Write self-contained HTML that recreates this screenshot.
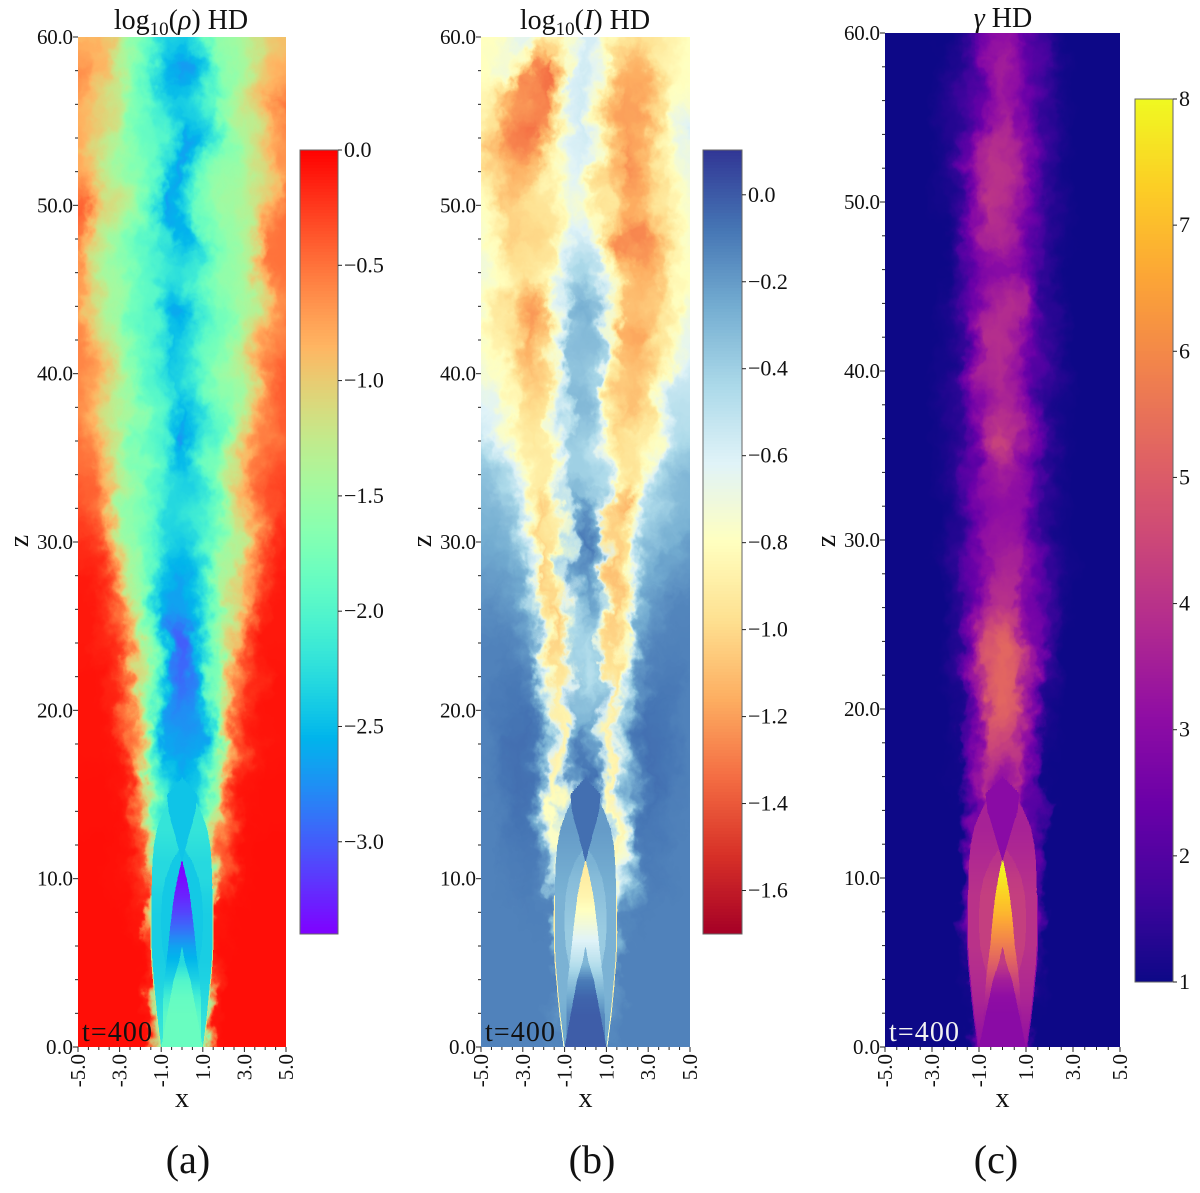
<!DOCTYPE html>
<html lang="en">
<head>
<meta charset="utf-8">
<title>Jet simulation maps at t=400</title>
<style>
html,body{margin:0;padding:0;background:#fff}
svg{display:block}
text{font-family:"Liberation Serif",serif;fill:#111}
</style>
</head>
<body>
<svg id="figure" xmlns="http://www.w3.org/2000/svg" width="1200" height="1193" viewBox="0 0 1200 1193">
  <defs>
    <filter id="turb-a" filterUnits="userSpaceOnUse" x="20" y="-30" width="330" height="1140" color-interpolation-filters="sRGB">
      <feGaussianBlur in="SourceGraphic" stdDeviation="1.8" result="b"/>
      <feTurbulence type="fractalNoise" baseFrequency="0.022 0.018" numOctaves="3" seed="4" result="n1"/>
      <feDisplacementMap in="b" in2="n1" scale="36" xChannelSelector="R" yChannelSelector="G" result="d1"/>
      <feTurbulence type="fractalNoise" baseFrequency="0.09 0.07" numOctaves="3" seed="21" result="n2"/>
      <feDisplacementMap in="d1" in2="n2" scale="16" xChannelSelector="R" yChannelSelector="G"/>
    </filter>
    <filter id="turb-b" filterUnits="userSpaceOnUse" x="420" y="-30" width="330" height="1140" color-interpolation-filters="sRGB">
      <feGaussianBlur in="SourceGraphic" stdDeviation="1.8" result="b"/>
      <feTurbulence type="fractalNoise" baseFrequency="0.03 0.024" numOctaves="3" seed="9" result="n1"/>
      <feDisplacementMap in="b" in2="n1" scale="34" xChannelSelector="R" yChannelSelector="G" result="d1"/>
      <feTurbulence type="fractalNoise" baseFrequency="0.1 0.08" numOctaves="3" seed="27" result="n2"/>
      <feDisplacementMap in="d1" in2="n2" scale="16" xChannelSelector="R" yChannelSelector="G"/>
    </filter>
    <filter id="turb-c" filterUnits="userSpaceOnUse" x="825" y="-30" width="355" height="1140" color-interpolation-filters="sRGB">
      <feGaussianBlur in="SourceGraphic" stdDeviation="1.6" result="b"/>
      <feTurbulence type="fractalNoise" baseFrequency="0.028 0.022" numOctaves="3" seed="15" result="n1"/>
      <feDisplacementMap in="b" in2="n1" scale="28" xChannelSelector="R" yChannelSelector="G" result="d1"/>
      <feTurbulence type="fractalNoise" baseFrequency="0.09 0.07" numOctaves="3" seed="52" result="n2"/>
      <feDisplacementMap in="d1" in2="n2" scale="14" xChannelSelector="R" yChannelSelector="G"/>
    </filter>
    <clipPath id="clip-a"><rect x="78" y="37" width="208" height="1010"/></clipPath>
    <clipPath id="clip-b"><rect x="481" y="37" width="209" height="1010"/></clipPath>
    <clipPath id="clip-c"><rect x="885" y="33" width="235" height="1014"/></clipPath>
  </defs>

  <text x="181" y="29" font-size="28" text-anchor="middle">log<tspan dy="6" font-size="19">10</tspan><tspan dy="-6">(</tspan><tspan font-style="italic">ρ</tspan>) HD</text>
  <text x="585" y="29" font-size="28" text-anchor="middle">log<tspan dy="6" font-size="19">10</tspan><tspan dy="-6">(</tspan><tspan font-style="italic">I</tspan>) HD</text>
  <text x="1003" y="27" font-size="28" text-anchor="middle"><tspan font-style="italic">γ</tspan> HD</text>

  <g id="panel-a"></g>
  <g id="panel-b"></g>
  <g id="panel-c"></g>

  <text x="188" y="1173" font-size="40" text-anchor="middle">(a)</text>
  <text x="592" y="1173" font-size="40" text-anchor="middle">(b)</text>
  <text x="996" y="1173" font-size="40" text-anchor="middle">(c)</text>
</svg>

<script>
const xNodes = [-5,-4.375,-3.75,-3.125,-2.5,-1.875,-1.25,-0.625,0,0.625,1.25,1.875,2.5,3.125,3.75,4.375,5];
const zNodes = [60,58,56,54,52,50,48,46,44,42,40,38,36,34,32,30,28,26,24,22,20,18,16,14,12,10,8,6,4,2,0];
const xTicks = [-5,-3,-1,1,3,5];
const zTicks = [0,10,20,30,40,50,60];
const densityTicks = [0,-0.5,-1,-1.5,-2,-2.5,-3];
const intensityTicks = [0,-0.2,-0.4,-0.6,-0.8,-1,-1.2,-1.4,-1.6];
const lorentzTicks = [1,2,3,4,5,6,7,8];

const densityGrid = [
[-.9,-.9,-1,-1.3,-1.5,-1.7,-1.9,-2.3,-2.4,-2.2,-1.8,-1.6,-1.5,-1.3,-1.1,-1,-.9],
[-.6,-.7,-.9,-1.3,-1.6,-1.8,-2,-2.5,-2.8,-2.4,-2.1,-1.7,-1.5,-1.3,-1.1,-.9,-.8],
[-.8,-.9,-1.1,-1.4,-1.7,-1.8,-1.9,-2.2,-2.4,-2.2,-1.8,-1.6,-1.5,-1.3,-1,-.7,-.5],
[-.8,-1,-1.2,-1.4,-1.6,-1.8,-1.9,-2.3,-2.7,-2.6,-2.2,-1.8,-1.5,-1.3,-1.1,-.8,-.6],
[-.8,-.9,-1.1,-1.4,-1.6,-1.8,-2,-2.5,-2.7,-2.3,-1.9,-1.6,-1.5,-1.3,-1.1,-.9,-.7],
[-.4,-.7,-1.1,-1.3,-1.5,-1.8,-2.3,-2.7,-2.5,-2.2,-1.8,-1.6,-1.4,-1.3,-1,-.7,-.5],
[-.6,-.9,-1.2,-1.4,-1.6,-1.8,-2.1,-2.5,-2.6,-2.4,-1.8,-1.6,-1.5,-1.3,-.9,-.5,-.5],
[-.7,-1,-1.3,-1.5,-1.7,-1.9,-2,-2.2,-2.2,-2,-1.8,-1.6,-1.5,-1.3,-.9,-.6,-.5],
[-.7,-1,-1.3,-1.5,-1.8,-1.9,-2,-2.4,-2.7,-2.5,-2.1,-1.8,-1.6,-1.4,-1,-.7,-.6],
[-.6,-.9,-1.1,-1.4,-1.7,-1.9,-2.2,-2.5,-2.4,-2.2,-1.9,-1.8,-1.6,-1.3,-.9,-.6,-.5],
[-.6,-.8,-1,-1.3,-1.6,-1.9,-2.1,-2.4,-2.3,-2.1,-1.9,-1.7,-1.5,-1.2,-.8,-.5,-.4],
[-.6,-.7,-.9,-1.2,-1.5,-1.9,-2,-2.3,-2.5,-2.3,-1.9,-1.7,-1.4,-1.1,-.7,-.5,-.4],
[-.5,-.6,-.8,-1.1,-1.5,-1.9,-2.1,-2.5,-2.8,-2.5,-2.1,-1.8,-1.4,-1,-.7,-.5,-.4],
[-.5,-.5,-.7,-1,-1.5,-1.9,-2,-2.3,-2.4,-2.2,-1.9,-1.7,-1.3,-.9,-.6,-.4,-.3],
[-.3,-.4,-.6,-1,-1.5,-1.8,-2,-2.3,-2.3,-2.2,-2,-1.7,-1.2,-.8,-.5,-.3,-.2],
[-.15,-.2,-.4,-.9,-1.4,-1.8,-2,-2.3,-2.4,-2.3,-2,-1.7,-1.2,-.7,-.4,-.2,-.15],
[-.1,-.15,-.3,-.7,-1.3,-1.7,-2.1,-2.5,-2.7,-2.4,-2.1,-1.6,-1,-.6,-.3,-.15,-.1],
[-.1,-.1,-.2,-.5,-1.1,-1.6,-2.1,-2.5,-2.7,-2.5,-2.1,-1.6,-.9,-.5,-.2,-.1,-.1],
[-.1,-.1,-.15,-.3,-.9,-1.6,-2.1,-2.8,-3.05,-2.8,-2.1,-1.6,-.9,-.4,-.2,-.1,-.1],
[-.08,-.08,-.1,-.2,-.7,-1.5,-2.1,-2.8,-2.95,-2.8,-2.1,-1.4,-.7,-.3,-.15,-.08,-.08],
[-.08,-.08,-.08,-.15,-.5,-1.2,-2.1,-2.7,-2.8,-2.7,-2.1,-1.2,-.5,-.2,-.1,-.08,-.08],
[-.08,-.08,-.08,-.1,-.4,-1,-2,-2.6,-2.7,-2.6,-2,-1,-.4,-.15,-.08,-.08,-.08],
[-.07,-.07,-.07,-.1,-.25,-.8,-1.9,-2.4,-2.6,-2.4,-1.9,-.8,-.25,-.1,-.07,-.07,-.07],
[-.07,-.07,-.07,-.08,-.15,-.6,-1.8,-2.3,-2.5,-2.3,-1.8,-.7,-.2,-.08,-.07,-.07,-.07],
[-.06,-.06,-.06,-.07,-.1,-.4,-1.8,-2.3,-2.4,-2.3,-1.8,-.6,-.2,-.07,-.06,-.06,-.06],
[-.06,-.06,-.06,-.07,-.08,-.25,-2,-2.4,-2.4,-2.4,-2,-.4,-.1,-.07,-.06,-.06,-.06],
[-.06,-.06,-.06,-.06,-.07,-.12,-2,-2.4,-2.4,-2.4,-2,-.12,-.07,-.06,-.06,-.06,-.06],
[-.06,-.06,-.06,-.06,-.06,-.07,-.3,-2.3,-2.4,-2.3,-.3,-.07,-.06,-.06,-.06,-.06,-.06],
[-.06,-.06,-.06,-.06,-.06,-.06,-.2,-2.3,-2.3,-2.3,-.2,-.06,-.06,-.06,-.06,-.06,-.06],
[-.06,-.06,-.06,-.06,-.06,-.06,-.1,-2.2,-2.2,-2.2,-.1,-.06,-.06,-.06,-.06,-.06,-.06],
[-.06,-.06,-.06,-.06,-.06,-.06,-.08,-2.2,-2.2,-2.2,-.08,-.06,-.06,-.06,-.06,-.06,-.06]
];

const intensityGrid = [
[-.8,-.8,-.75,-.65,-.62,-.85,-.9,-.7,-.55,-.7,-.85,-.95,-1,-.95,-.9,-.85,-.8],
[-.8,-.75,-.7,-.95,-1.3,-1.35,-1,-.6,-.55,-.7,-1,-1.15,-1.15,-1.05,-.9,-.85,-.8],
[-.85,-.95,-1.1,-1.2,-1.25,-1.3,-1,-.6,-.55,-.75,-1.05,-1.2,-1.2,-1.05,-.95,-.8,-.75],
[-.85,-1.05,-1.2,-1.3,-1.35,-1.2,-.85,-.6,-.55,-.85,-1.15,-1.2,-1.15,-1,-.85,-.7,-.55],
[-.85,-.95,-1.15,-1.15,-1.1,-.9,-.8,-.65,-.6,-.9,-1.1,-1.25,-1.2,-1.05,-.9,-.75,-.7],
[-.8,-.95,-1.05,-1,-.95,-.95,-.8,-.7,-.75,-.9,-1.05,-1.15,-1.15,-1.05,-.95,-.8,-.75],
[-.75,-.85,-1,-1.05,-1,-.95,-.75,-.6,-.6,-.7,-1,-1.25,-1.3,-1.2,-1.05,-.9,-.75],
[-.7,-.8,-.9,-.95,-.9,-.8,-.6,-.45,-.4,-.5,-.85,-1.05,-1.15,-1.15,-1.05,-.85,-.8],
[-.7,-.85,-1,-1.15,-1.25,-1.1,-.7,-.3,-.25,-.35,-.8,-1.1,-1.1,-1.05,-.9,-.8,-.7],
[-.75,-.85,-.95,-1.1,-1.2,-1.05,-.7,-.35,-.3,-.4,-.85,-1.15,-1.2,-1.1,-.95,-.75,-.65],
[-.7,-.75,-.85,-1.05,-1.1,-1,-.65,-.35,-.35,-.45,-.9,-1.05,-1.1,-1.05,-.85,-.6,-.55],
[-.6,-.65,-.8,-.95,-1,-.95,-.65,-.3,-.3,-.45,-.9,-1.1,-1.1,-.95,-.7,-.5,-.5],
[-.5,-.55,-.7,-.85,-.95,-.9,-.65,-.4,-.4,-.5,-.85,-1,-.95,-.8,-.55,-.45,-.4],
[-.35,-.4,-.5,-.7,-.9,-.9,-.7,-.4,-.4,-.5,-.85,-.95,-.9,-.65,-.45,-.35,-.3],
[-.3,-.3,-.38,-.55,-.9,-1.05,-.85,-.25,-.15,-.35,-1.05,-1.15,-.85,-.5,-.35,-.3,-.3],
[-.25,-.25,-.3,-.5,-.75,-1,-.95,-.2,-.05,-.25,-1.05,-.95,-.6,-.4,-.3,-.25,-.2],
[-.2,-.2,-.22,-.3,-.6,-1.05,-.95,-.2,-.15,-.3,-1.15,-.95,-.5,-.3,-.2,-.2,-.18],
[-.17,-.15,-.17,-.2,-.3,-.9,-1.1,-.5,-.2,-.6,-1.1,-.85,-.35,-.2,-.15,-.13,-.13],
[-.12,-.12,-.12,-.15,-.2,-.75,-1.1,-.4,-.45,-.4,-1.1,-.8,-.25,-.15,-.12,-.12,-.12],
[-.12,-.12,-.1,-.1,-.15,-.6,-1.05,-.4,-.5,-.4,-1.05,-.6,-.2,-.1,-.1,-.1,-.12],
[-.12,-.1,-.08,-.07,-.1,-.45,-1,-.3,-.35,-.3,-1,-.45,-.12,-.07,-.08,-.1,-.12],
[-.12,-.1,-.07,-.06,-.08,-.4,-1,-.25,-.08,-.25,-1,-.4,-.1,-.06,-.07,-.1,-.12],
[-.12,-.1,-.08,-.06,-.08,-.3,-1,-.2,-.02,-.2,-1,-.4,-.1,-.06,-.08,-.1,-.12],
[-.12,-.11,-.09,-.07,-.08,-.25,-.95,-.2,-.02,-.2,-.95,-.45,-.1,-.07,-.09,-.11,-.12],
[-.12,-.12,-.1,-.09,-.09,-.3,-.9,-.25,-.1,-.25,-.9,-.7,-.12,-.09,-.1,-.12,-.12],
[-.12,-.12,-.11,-.1,-.1,-.15,-.8,-.3,-.3,-.3,-.8,-.5,-.12,-.1,-.11,-.12,-.12],
[-.12,-.12,-.12,-.12,-.11,-.12,-.5,-.35,-.4,-.35,-.5,-.15,-.11,-.12,-.12,-.12,-.12],
[-.12,-.12,-.12,-.12,-.12,-.12,-.3,-.35,-.4,-.35,-.3,-.12,-.12,-.12,-.12,-.12,-.12],
[-.12,-.12,-.12,-.12,-.12,-.12,-.2,-.3,-.3,-.3,-.2,-.12,-.12,-.12,-.12,-.12,-.12],
[-.12,-.12,-.12,-.12,-.12,-.12,-.15,-.2,-.2,-.2,-.15,-.12,-.12,-.12,-.12,-.12,-.12],
[-.12,-.12,-.12,-.12,-.12,-.12,-.13,-.1,-.05,-.1,-.13,-.12,-.12,-.12,-.12,-.12,-.12]
];

const lorentzGrid = [
[1,1,1,1,1,1.2,1.6,2.5,3.2,2.8,1.9,1.3,1,1,1,1,1],
[1,1,1,1,1.1,1.3,1.8,2.9,3.6,3.1,2.1,1.4,1.1,1,1,1,1],
[1,1,1,1,1.1,1.4,2.1,3,3.4,3.1,2.3,1.5,1.1,1,1,1,1],
[1,1,1,1,1.1,1.4,2.2,3.4,3.9,3.5,2.4,1.5,1.1,1,1,1,1],
[1,1,1,1,1.1,1.5,2.6,3.7,4.1,3.5,2.3,1.5,1.1,1,1,1,1],
[1,1,1,1,1.1,1.5,2.8,4.1,3.9,3.2,2.2,1.4,1.1,1,1,1,1],
[1,1,1,1,1,1.5,2.6,3.6,3.8,3.4,2.3,1.5,1.1,1,1,1,1],
[1,1,1,1,1,1.4,2.1,2.8,2.9,2.7,2.1,1.4,1,1,1,1,1],
[1,1,1,1,1.1,1.5,2.3,3.4,3.9,3.7,2.4,1.5,1.1,1,1,1,1],
[1,1,1,1,1.1,1.5,2.6,3.9,3.9,3.3,2.3,1.6,1.2,1,1,1,1],
[1,1,1,1,1.1,1.4,2.5,3.6,3.9,3.2,2.1,1.5,1.1,1,1,1,1],
[1,1,1,1,1.1,1.4,2.3,3.2,3.7,3.2,2.2,1.4,1.1,1,1,1,1],
[1,1,1,1,1.1,1.5,2.7,4.1,4.6,4,2.7,1.5,1.1,1,1,1,1],
[1,1,1,1,1.1,1.4,2.3,3.2,3.6,3.2,2.3,1.4,1.1,1,1,1,1],
[1,1,1,1,1.1,1.4,2.2,2.9,3.1,3,2.3,1.4,1.1,1,1,1,1],
[1,1,1,1,1.1,1.4,2.3,3.2,3.3,3.2,2.4,1.5,1.1,1,1,1,1],
[1,1,1,1,1,1.4,2.6,3.6,3.8,3.7,2.6,1.5,1.1,1,1,1,1],
[1,1,1,1,1,1.4,2.7,3.8,4,3.9,2.8,1.6,1.1,1,1,1,1],
[1,1,1,1,1,1.4,2.8,4.6,5.4,4.7,2.9,1.5,1,1,1,1,1],
[1,1,1,1,1,1.3,2.9,4.8,5.3,4.9,3,1.4,1,1,1,1,1],
[1,1,1,1,1,1.2,3,5,5.3,5,3,1.2,1,1,1,1,1],
[1,1,1,1,1,1.1,2.8,4.4,4.4,4.4,2.8,1.1,1,1,1,1,1],
[1,1,1,1,1,1.05,2.5,3.8,3,3.8,2.5,1.05,1,1,1,1,1],
[1,1,1,1,1,1,2.3,3.9,2.8,3.9,2.3,1,1,1,1,1,1],
[1,1,1,1,1,1,2.4,3.9,3.2,3.9,2.4,1,1,1,1,1,1],
[1,1,1,1,1,1,2.8,4.1,4,4.1,2.8,1,1,1,1,1,1],
[1,1,1,1,1,1,2.8,4.2,4.4,4.2,2.8,1,1,1,1,1,1],
[1,1,1,1,1,1,1.5,4,4,4,1.5,1,1,1,1,1,1],
[1,1,1,1,1,1,1.2,3.9,3.9,3.9,1.2,1,1,1,1,1,1],
[1,1,1,1,1,1,1,3.3,3.2,3.3,1,1,1,1,1,1,1],
[1,1,1,1,1,1,1,3.2,3.1,3.2,1,1,1,1,1,1,1]
];

const jetZ = [0,1,2,3,4,5,6,7,8,9,10,11,12,13,14,15,16];
const sheathHalfWidth = [1,1.1,1.2,1.28,1.35,1.42,1.46,1.47,1.47,1.46,1.45,1.42,1.35,1.2,.9,.5,0];
const edgeHalfWidth = [1.05,1.15,1.25,1.33,1.4,1.47,1.51,1.52,1.52,1.51,0,0,0,0,0,0,0];
const innerHalfWidth = [0,0,0,0,.6,.8,.95,1,1,.95,.8,.5,0,0,0,0,0];
const coreHalfWidth = [.92,.92,.92,.9,.85,.75,.66,.58,.48,.38,.22,.03,0,0,0,0,0];
const gammaCoreHalfWidth = [.8,.8,.8,.75,.7,.62,.52,.46,.39,.3,.18,.03,0,0,0,0,0];
const baseHalfWidth = [1,.85,.7,.55,.4,.15,0,0,0,0,0,0,0,0,0,0,0];
const wedgeHalfWidth = [0,0,0,0,0,0,0,0,0,0,0,0,.2,.42,.64,.72,0];

const densitySheath = [-2.15,-2.2,-2.25,-2.3,-2.35,-2.38,-2.38,-2.38,-2.38,-2.35,-2.3,-2.3,-2.25,-2.2,-2.2,-2.2,-2.2];
const densityEdge = [-1.2,-1.2,-1.2,-1.2,-1.2,-1.2,-1.2,-1.2,-1.2,-1.2,-1.2,-1.2,-1.2,-1.2,-1.2,-1.2,-1.2];
const densityInner = [-2.42,-2.42,-2.42,-2.42,-2.42,-2.42,-2.42,-2.42,-2.42,-2.42,-2.42,-2.42,-2.42,-2.42,-2.42,-2.42,-2.42];
const densityCore = [-1.9,-1.9,-1.95,-2.1,-2.35,-2.5,-2.65,-2.9,-3.1,-3.25,-3.35,-3.4,-3.4,-3.4,-3.4,-3.4,-3.4];
const densityBase = [-1.85,-1.85,-1.85,-1.88,-2,-2.3,-2.3,-2.3,-2.3,-2.3,-2.3,-2.3,-2.3,-2.3,-2.3,-2.3,-2.3];
const densityWedge = [-2.45,-2.45,-2.45,-2.45,-2.45,-2.45,-2.45,-2.45,-2.45,-2.45,-2.45,-2.45,-2.45,-2.45,-2.45,-2.45,-2.45];

const intensitySheath = [-.24,-.24,-.26,-.28,-.28,-.28,-.28,-.28,-.28,-.28,-.26,-.24,-.22,-.2,-.2,-.2,-.2];
const intensityEdge = [-.7,-.8,-.85,-.9,-.9,-.9,-.9,-.9,-.9,-.85,-.8,-.8,-.8,-.8,-.8,-.8,-.8];
const intensityInner = [-.36,-.36,-.36,-.36,-.34,-.36,-.38,-.38,-.36,-.34,-.32,-.28,-.28,-.28,-.28,-.28,-.28];
const intensityCore = [-.1,-.12,-.15,-.25,-.35,-.48,-.58,-.68,-.78,-.86,-.9,-.92,-.92,-.92,-.92,-.92,-.92];
const intensityBase = [-.01,-.01,-.01,-.03,-.1,-.3,-.3,-.3,-.3,-.3,-.3,-.3,-.3,-.3,-.3,-.3,-.3];
const intensityWedge = [-.06,-.06,-.06,-.06,-.06,-.06,-.06,-.06,-.06,-.06,-.06,-.06,-.06,-.06,-.06,-.06,-.06];

const lorentzSheath = [3.2,3.3,3.5,3.7,3.8,3.9,4,4,4,4,3.9,3.8,3.7,3.6,3.6,3.6,3.6];
const lorentzEdge = [3,3,3,3,3,3,3,3,3,3,3,3,3,3,3,3,3];
const lorentzInner = [4.2,4.2,4.2,4.2,4.1,4.2,4.3,4.3,4.3,4.3,4.2,4,4,4,4,4,4];
const lorentzCore = [3.2,3.2,3.4,3.8,4.4,5.1,5.7,6.3,6.9,7.3,7.7,8,8,8,8,8,8];
const lorentzBase = [3,3,3,3.1,3.5,4.2,4.2,4.2,4.2,4.2,4.2,4.2,4.2,4.2,4.2,4.2,4.2];
const lorentzWedge = [3,3,3,3,3,3,3,3,3,3,3,3,3,3,3,3,3];

const RDYLBU = [[165,0,38],[215,48,39],[244,109,67],[253,174,97],[254,224,144],[255,255,191],[224,243,248],[171,217,233],[116,173,209],[69,117,180],[49,54,149]];
const PLASMA = [[13,8,135],[65,4,157],[106,0,168],[143,13,164],[177,42,144],[204,71,120],[225,100,98],[242,132,75],[252,166,54],[252,206,37],[240,249,33]];
const SVGNS = 'http://www.w3.org/2000/svg';

function clamp01(t){return Math.max(0,Math.min(1,t));}
function rgb(r,g,b){return 'rgb('+Math.round(r)+','+Math.round(g)+','+Math.round(b)+')';}
function rainbow(t){
  t=clamp01(t);
  const r=Math.min(1,Math.abs(2*t-0.5)),g=Math.sin(Math.PI*t),b=Math.cos(Math.PI*t/2);
  return rgb(r*255,g*255,Math.max(0,b)*255);
}
function stops(list){
  return function(t){
    t=clamp01(t)*(list.length-1);
    const i=Math.min(list.length-2,Math.floor(t)),f=t-i;
    const a=list[i],b=list[i+1];
    return rgb(a[0]+(b[0]-a[0])*f,a[1]+(b[1]-a[1])*f,a[2]+(b[2]-a[2])*f);
  };
}
function make(tag,attrs,parent){
  const el=document.createElementNS(SVGNS,tag);
  for(const k in attrs){el.setAttribute(k,attrs[k]);}
  parent.appendChild(el);
  return el;
}
function interp1(xs,ys,x){
  if(x<=xs[0])return ys[0];
  for(let i=1;i<xs.length;i++){
    if(x<=xs[i]){const f=(x-xs[i-1])/(xs[i]-xs[i-1]);return ys[i-1]+(ys[i]-ys[i-1])*f;}
  }
  return ys[ys.length-1];
}
function sampleGrid(grid,x,z){
  const dx=xNodes[1]-xNodes[0];
  const fx=Math.max(0,Math.min(xNodes.length-1.0001,(x-xNodes[0])/dx));
  const fz=Math.max(0,Math.min(zNodes.length-1.0001,(zNodes[0]-z)/2));
  const i=Math.floor(fx),j=Math.floor(fz),u=fx-i,v=fz-j;
  const top=grid[j][i]*(1-u)+grid[j][i+1]*u;
  const bot=grid[j+1][i]*(1-u)+grid[j+1][i+1]*u;
  return top*(1-v)+bot*v;
}
function fmt(v,decimals){
  const s=Math.abs(v).toFixed(decimals);
  return (v<0?'\u2212':'')+s;
}

function drawPanel(p){
  const root=document.getElementById(p.id);
  const xScale=function(x){return p.left+(x+5)/10*(p.right-p.left);};
  const zScale=function(z){return p.bottom-z/60*(p.bottom-p.top);};
  const cNorm=function(v){return (v-p.vmin)/(p.vmax-p.vmin);};
  const barY=function(v){return p.barBottom-(v-p.vmin)/(p.vmax-p.vmin)*(p.barBottom-p.barTop);};

  const clip=make('g',{'clip-path':'url(#'+p.clip+')'},root);
  
  
  const field=make('g',{filter:'url(#'+p.filter+')','shape-rendering':'crispEdges'},clip);
  
  

  const stepX=0.25,stepZ=0.5;
  for(let z=63;z>-3;z-=stepZ){
    for(let x=-7;x<7;x+=stepX){
      const v=sampleGrid(p.grid,x+stepX/2,z-stepZ/2);
      const x0=xScale(x),y0=zScale(z);
      const cell=make('rect',{x:x0.toFixed(1),y:y0.toFixed(1),width:(xScale(x+stepX)-x0+1).toFixed(1),height:(zScale(z-stepZ)-y0+1).toFixed(1),fill:p.cmap(cNorm(v))},field);
      
      
    }
  }

  const jet=make('g',{'shape-rendering':'crispEdges'},clip);
  
  
  p.layers.forEach(function(layer){
    const dz=0.1;
    for(let z=0;z<16;z+=dz){
      const zMid=z+dz/2;
      const hw=interp1(jetZ,layer.width,zMid);
      if(hw<=0.005)continue;
      const v=interp1(jetZ,layer.values,zMid);
      const x0=xScale(-hw),y0=zScale(z+dz);
      const band=make('rect',{x:x0.toFixed(1),y:y0.toFixed(1),width:(xScale(hw)-x0).toFixed(1),height:(zScale(z)-y0+0.8).toFixed(1),fill:p.cmap(cNorm(v))},jet);
      
      
    }
  });

  const axes=make('g',{stroke:'#222','stroke-width':1,fill:'none'},root);
  
  
  for(let x=-5;x<=5.001;x+=0.5){
    const major=xTicks.indexOf(Math.round(x*10)/10)>=0;
    const tx=make('line',{x1:xScale(x),x2:xScale(x),y1:p.bottom,y2:p.bottom+(major?5:3)},axes);
    
    
  }
  for(let z=0;z<=60;z+=2){
    const major=zTicks.indexOf(z)>=0;
    const tz=make('line',{x1:p.left-(major?5:3),x2:p.left,y1:zScale(z),y2:zScale(z)},axes);
    
    
  }
  xTicks.forEach(function(x){
    const X=xScale(x)+7,Y=p.bottom+7;
    const t=make('text',{x:X,y:Y,'font-size':21,'text-anchor':'end',transform:'rotate(-90 '+X+' '+Y+')'},root);
    t.textContent=x.toFixed(1);
    
    
  });
  zTicks.forEach(function(z){
    const t=make('text',{x:p.left-5,y:zScale(z)+7,'font-size':21,'text-anchor':'end',textLength:z===0?27:36,lengthAdjust:'spacing'},root);
    t.textContent=z.toFixed(1);
    
    
  });
  const xl=make('text',{x:(p.left+p.right)/2,y:1107,'font-size':28,'text-anchor':'middle'},root);
  xl.textContent='x';
  
  
  const zlX=p.left-50,zlY=541;
  const zl=make('text',{x:zlX,y:zlY,'font-size':28,'text-anchor':'middle',transform:'rotate(-90 '+zlX+' '+zlY+')'},root);
  zl.textContent='z';
  
  
  const stamp=make('text',{x:p.left+4,y:1041,'font-size':28,textLength:70,lengthAdjust:'spacing',style:'fill:'+p.stampColor},root);
  stamp.textContent='t=400';
  
  

  const bar=make('g',{'shape-rendering':'crispEdges'},root);
  
  
  const barStep=3;
  for(let y=p.barTop;y<p.barBottom;y+=barStep){
    const v=p.vmax-(y+barStep/2-p.barTop)/(p.barBottom-p.barTop)*(p.vmax-p.vmin);
    const strip=make('rect',{x:p.barLeft,y:y,width:p.barRight-p.barLeft,height:Math.min(barStep,p.barBottom-y),fill:p.cmap(cNorm(v))},bar);
    
    
  }
  const frame=make('rect',{x:p.barLeft,y:p.barTop,width:p.barRight-p.barLeft,height:p.barBottom-p.barTop,fill:'none',stroke:'#666','stroke-width':1},root);
  
  
  p.ticks.forEach(function(v){
    const y=barY(v);
    const tick=make('line',{x1:p.barRight,x2:p.barRight+4,y1:y,y2:y,stroke:'#222','stroke-width':1},root);
    
    
    const label=make('text',{x:p.barRight+6,y:y+7,'font-size':22},root);
    label.textContent=fmt(v,p.decimals);
    
    
  });
}

drawPanel({id:'panel-a',clip:'clip-a',filter:'turb-a',left:78,right:286,top:37,bottom:1047,
  grid:densityGrid,cmap:rainbow,vmin:-3.4,vmax:0,ticks:densityTicks,decimals:1,stampColor:'#111',
  barLeft:300,barRight:338,barTop:150,barBottom:934,
  layers:[
    {name:'jet-edge',width:edgeHalfWidth,values:densityEdge},
    {name:'jet-sheath',width:sheathHalfWidth,values:densitySheath},
    {name:'jet-inner-sheath',width:innerHalfWidth,values:densityInner},
    {name:'jet-core',width:coreHalfWidth,values:densityCore},
    {name:'nozzle-base',width:baseHalfWidth,values:densityBase},
    {name:'shock-wedge',width:wedgeHalfWidth,values:densityWedge}
  ]});
drawPanel({id:'panel-b',clip:'clip-b',filter:'turb-b',left:481,right:690,top:37,bottom:1047,
  grid:intensityGrid,cmap:stops(RDYLBU),vmin:-1.7,vmax:0.103,ticks:intensityTicks,decimals:1,stampColor:'#111',
  barLeft:703,barRight:742,barTop:150,barBottom:934,
  layers:[
    {name:'jet-edge',width:edgeHalfWidth,values:intensityEdge},
    {name:'jet-sheath',width:sheathHalfWidth,values:intensitySheath},
    {name:'jet-inner-sheath',width:innerHalfWidth,values:intensityInner},
    {name:'jet-core',width:coreHalfWidth,values:intensityCore},
    {name:'nozzle-base',width:baseHalfWidth,values:intensityBase},
    {name:'shock-wedge',width:wedgeHalfWidth,values:intensityWedge}
  ]});
drawPanel({id:'panel-c',clip:'clip-c',filter:'turb-c',left:885,right:1120,top:33,bottom:1047,
  grid:lorentzGrid,cmap:stops(PLASMA),vmin:1,vmax:8,ticks:lorentzTicks,decimals:0,stampColor:'#f2f2f2',
  barLeft:1135,barRight:1173,barTop:99,barBottom:982,
  layers:[
    {name:'jet-edge',width:edgeHalfWidth,values:lorentzEdge},
    {name:'jet-sheath',width:sheathHalfWidth,values:lorentzSheath},
    {name:'jet-inner-sheath',width:innerHalfWidth,values:lorentzInner},
    {name:'jet-core',width:gammaCoreHalfWidth,values:lorentzCore},
    {name:'nozzle-base',width:baseHalfWidth,values:lorentzBase},
    {name:'shock-wedge',width:wedgeHalfWidth,values:lorentzWedge}
  ]});
</script>
</body>
</html>
